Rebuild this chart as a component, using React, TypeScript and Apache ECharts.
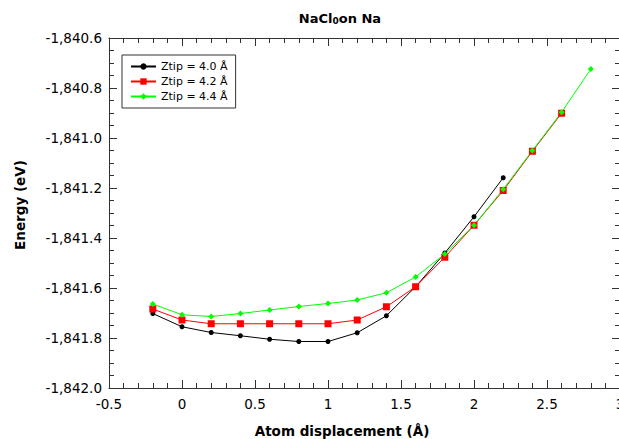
import React, { useEffect, useRef } from "react";
import * as echarts from "echarts";

const xBlack = [-0.2, 0, 0.2, 0.4, 0.6, 0.8, 1.0, 1.2, 1.4, 1.6, 1.8, 2.0, 2.2];
const yBlack = [-1841.702, -1841.755, -1841.778, -1841.791, -1841.805, -1841.814, -1841.814, -1841.779, -1841.711, -1841.595, -1841.46, -1841.315, -1841.159];

const xRed = [-0.2, 0, 0.2, 0.4, 0.6, 0.8, 1.0, 1.2, 1.4, 1.6, 1.8, 2.0, 2.2, 2.4, 2.6];
const yRed = [-1841.684, -1841.728, -1841.743, -1841.743, -1841.743, -1841.743, -1841.743, -1841.728, -1841.675, -1841.595, -1841.477, -1841.349, -1841.21, -1841.053, -1840.901];

const xGreen = [-0.2, 0, 0.2, 0.4, 0.6, 0.8, 1.0, 1.2, 1.4, 1.6, 1.8, 2.0, 2.2, 2.4, 2.6, 2.8];
const yGreen = [-1841.664, -1841.707, -1841.714, -1841.702, -1841.688, -1841.674, -1841.662, -1841.648, -1841.619, -1841.556, -1841.464, -1841.349, -1841.205, -1841.05, -1840.897, -1840.724];

const seriesNames = ["Ztip = 4.0 Å", "Ztip = 4.2 Å", "Ztip = 4.4 Å"];

const FONT = "DejaVu Sans";

const zip = (xs: number[], ys: number[]) => xs.map((x, i) => [x, ys[i]]);

export default function App() {
  const ref = useRef<HTMLDivElement>(null);
  useEffect(() => {
    if (!ref.current) return;
    const chart = echarts.init(ref.current, undefined, { renderer: "svg" });
    const axisLine = { show: true, onZero: false, lineStyle: { color: "#333", width: 1 } };
    const tickCommon = { show: true, inside: true, length: 8, lineStyle: { color: "#333" } };
    const minorCommon = { show: true, splitNumber: 5, length: 5, lineStyle: { color: "#333" } };
    const yFmt = (v: number) =>
      v.toLocaleString("en-US", { minimumFractionDigits: 1, maximumFractionDigits: 1 });
    chart.setOption({
      animation: false,
      backgroundColor: "#fff",
      grid: { left: 109, top: 38, width: 511, height: 350, containLabel: false, outerBoundsMode: "none" },
      legend: {
        orient: "vertical",
        left: 122,
        top: 55,
        align: "left",
        padding: [6, 8, 6, 8],
        borderColor: "#333",
        borderWidth: 1,
        itemWidth: 25,
        itemHeight: 8,
        itemGap: 4,
        data: seriesNames,
        textStyle: { fontFamily: FONT, fontSize: 11, color: "#000" },
      },
      xAxis: [
        {
          type: "value",
          min: -0.5,
          max: 3,
          interval: 0.5,
          axisLine,
          axisTick: tickCommon,
          minorTick: { ...minorCommon, splitNumber: 5 },
          splitLine: { show: false },
          axisLabel: {
            fontFamily: FONT,
            fontSize: 13.5,
            color: "#000",
            margin: 9,
            formatter: (v: number) => String(Math.round(v * 10) / 10),
          },
        },
        {
          type: "value",
          position: "top",
          min: -0.5,
          max: 3,
          interval: 0.5,
          axisLine,
          axisTick: tickCommon,
          minorTick: { ...minorCommon, splitNumber: 5 },
          splitLine: { show: false },
          axisLabel: { show: false },
        },
      ],
      yAxis: [
        {
          type: "value",
          min: -1842,
          max: -1840.6,
          interval: 0.2,
          axisLine,
          axisTick: tickCommon,
          minorTick: { ...minorCommon, splitNumber: 4 },
          splitLine: { show: false },
          axisLabel: {
            fontFamily: FONT,
            fontSize: 13.5,
            color: "#000",
            margin: 7,
            formatter: yFmt,
          },
        },
        {
          type: "value",
          position: "right",
          min: -1842,
          max: -1840.6,
          interval: 0.2,
          axisLine,
          axisTick: tickCommon,
          minorTick: { ...minorCommon, splitNumber: 4 },
          splitLine: { show: false },
          axisLabel: { show: false },
        },
      ],
      graphic: [
        {
          type: "text",
          x: 340,
          y: 18,
          style: {
            text: "{b|NaCl}{s|0}{b|on Na}",
            align: "center",
            verticalAlign: "middle",
            rich: {
              b: { fontFamily: FONT, fontSize: 13, fontWeight: "bold", fill: "#000" },
              s: { fontFamily: FONT, fontSize: 9, fontWeight: "bold", fill: "#000", verticalAlign: "bottom", padding: [6, 0, 0, 0] },
            },
          },
        },
        {
          type: "text",
          x: 342,
          y: 431,
          style: {
            text: "Atom displacement (Å)",
            align: "center",
            verticalAlign: "middle",
            fontFamily: FONT,
            fontSize: 13.5,
            fontWeight: "bold",
            fill: "#000",
          },
        },
        {
          type: "text",
          x: 20,
          y: 205,
          rotation: Math.PI / 2,
          style: {
            text: "Energy (eV)",
            align: "center",
            verticalAlign: "middle",
            fontFamily: FONT,
            fontSize: 13.5,
            fontWeight: "bold",
            fill: "#000",
          },
        },
      ],
      series: [
        {
          name: seriesNames[0],
          type: "line",
          data: zip(xBlack, yBlack),
          symbol: "circle",
          symbolSize: 5,
          color: "#000000",
          lineStyle: { width: 1, color: "#000000" },
          itemStyle: { color: "#000000" },
        },
        {
          name: seriesNames[1],
          type: "line",
          data: zip(xRed, yRed),
          symbol: "rect",
          symbolSize: 7,
          color: "#ff0000",
          lineStyle: { width: 1, color: "#ff0000" },
          itemStyle: { color: "#ff0000" },
        },
        {
          name: seriesNames[2],
          type: "line",
          data: zip(xGreen, yGreen),
          symbol: "diamond",
          symbolSize: 6,
          color: "#00ff00",
          lineStyle: { width: 1, color: "#00ff00" },
          itemStyle: { color: "#00ff00" },
        },
      ],
    });
    return () => chart.dispose();
  }, []);
  return <div ref={ref} style={{ width: 619, height: 439, position: "absolute", left: 0, top: 0 }} />;
}
